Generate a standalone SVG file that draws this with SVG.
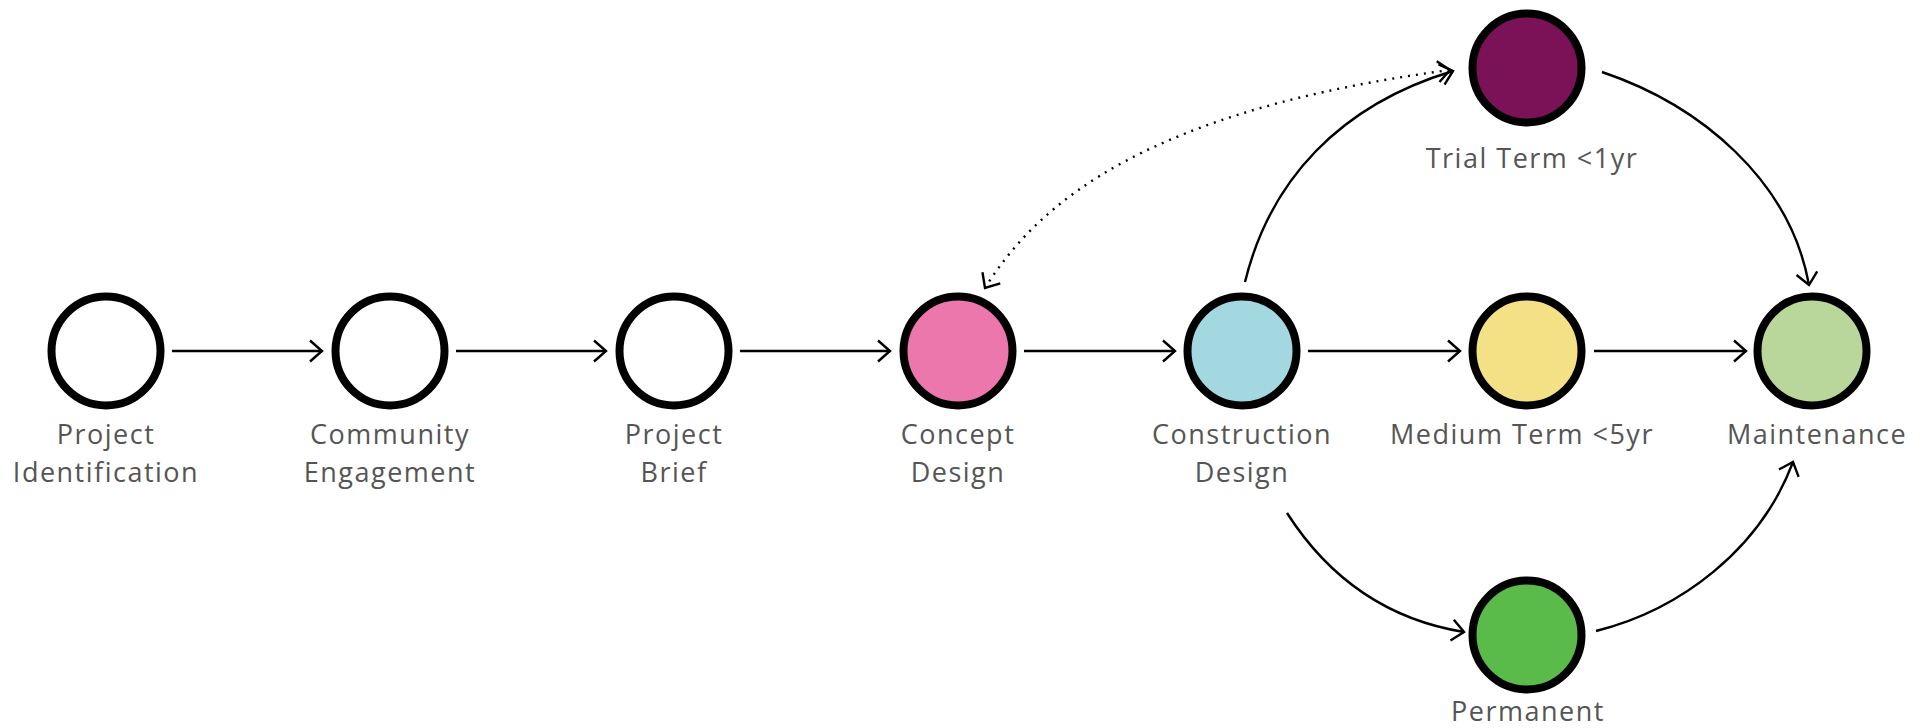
<svg xmlns="http://www.w3.org/2000/svg" width="1924" height="728" viewBox="0 0 1924 728">
<style>
.node circle{stroke:#000;stroke-width:8}
.lbl{font-family:"Open Sans","Liberation Sans",sans-serif;font-weight:400;font-size:27px;letter-spacing:1.5px;fill:#555;text-anchor:middle}
.edge{fill:none;stroke:#000;stroke-width:2.4;marker-end:url(#arr)}
.dot{fill:none;stroke:#000;stroke-width:2.4;stroke-dasharray:2 6;marker-end:url(#arr);marker-start:url(#arr)}
</style>
<defs>
<marker id="arr" markerUnits="userSpaceOnUse" markerWidth="30" markerHeight="30" viewBox="-15 -15 30 30" refX="0" refY="0" orient="auto-start-reverse">
<path d="M-12,-10.5 L0,0 L-12,10.5" fill="none" stroke="#000" stroke-width="2.4"/>
</marker>
</defs>
<rect width="1924" height="728" fill="#fff"/>
<g id="connectors">
<path class="edge" d="M172,351 L322,351"/>
<path class="edge" d="M456,351 L606,351"/>
<path class="edge" d="M740,351 L890,351"/>
<path class="edge" d="M1024,351 L1175,351"/>
<path class="edge" d="M1308,351 L1460,351"/>
<path class="edge" d="M1594,351 L1746,351"/>
<path class="edge" d="M1245,282 C1270,180 1340,105 1453,71"/>
<path class="edge" d="M1602,72 C1700,105 1790,180 1809,285"/>
<path class="edge" d="M1287,513 C1330,580 1390,620 1464,632"/>
<path class="edge" d="M1596,631 C1680,610 1760,550 1793,462"/>
<path class="dot" d="M985,288 C1040,200 1150,110 1450,70"/>
</g>
<g id="n1" class="node"><circle cx="106" cy="351" r="54.5" fill="#fff"/><text class="lbl" x="106" y="444">Project</text><text class="lbl" x="106" y="482">Identification</text></g>
<g id="n2" class="node"><circle cx="390" cy="351" r="54.5" fill="#fff"/><text class="lbl" x="390" y="444">Community</text><text class="lbl" x="390" y="482">Engagement</text></g>
<g id="n3" class="node"><circle cx="674" cy="351" r="54.5" fill="#fff"/><text class="lbl" x="674" y="444">Project</text><text class="lbl" x="674" y="482">Brief</text></g>
<g id="n4" class="node"><circle cx="958" cy="351" r="54.5" fill="#EC77AC"/><text class="lbl" x="958" y="444">Concept</text><text class="lbl" x="958" y="482">Design</text></g>
<g id="n5" class="node"><circle cx="1242" cy="351" r="54.5" fill="#A3D8E0"/><text class="lbl" x="1242" y="444">Construction</text><text class="lbl" x="1242" y="482">Design</text></g>
<g id="n6" class="node"><circle cx="1527" cy="68" r="54.5" fill="#7B1257"/><text class="lbl" x="1532" y="168">Trial Term &lt;1yr</text></g>
<g id="n7" class="node"><circle cx="1527" cy="351" r="54.5" fill="#F4E185"/><text class="lbl" x="1522" y="444">Medium Term &lt;5yr</text></g>
<g id="n8" class="node"><circle cx="1812" cy="351" r="54.5" fill="#B9D79A"/><text class="lbl" x="1817" y="444">Maintenance</text></g>
<g id="n9" class="node"><circle cx="1527" cy="635" r="54.5" fill="#5BBB4A"/><text class="lbl" x="1528" y="721">Permanent</text></g>
</svg>
